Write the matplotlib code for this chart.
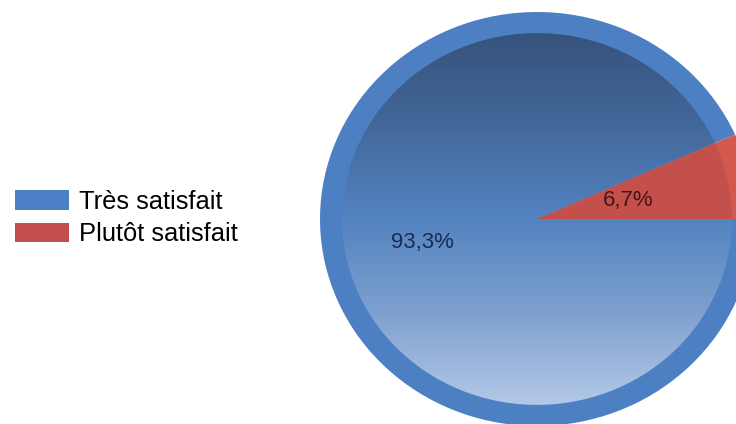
import matplotlib.pyplot as plt
import numpy as np
from matplotlib.colors import LinearSegmentedColormap
from matplotlib.patches import Patch

plt.rcParams['font.family'] = ['Liberation Sans', 'DejaVu Sans']

# Satisfaction shares (%), drawn counter-clockwise from 3 o'clock
labels = ['Plutôt satisfait', 'Très satisfait']
shares = [6.7, 93.3]
legend_order = ['Très satisfait', 'Plutôt satisfait']

ring_colors = ['#d3594f', '#4d80c2']
inner_red = '#c4504b'
legend_colors = {'Très satisfait': '#4a7fc6', 'Plutôt satisfait': '#c24f4d'}

fig = plt.figure(figsize=(7.36, 4.24), dpi=100)
W, H = 736, 424

# pie bounding box in pixels (slightly wider than tall)
cx, cy, rx, ry = 537, 219, 217, 207
ax = fig.add_axes([(cx - rx) / W, 1 - (cy + ry) / H, 2 * rx / W, 2 * ry / H])

# outer ring
ax.pie(shares, colors=ring_colors, startangle=0, counterclock=True, radius=1.0,
       wedgeprops=dict(linewidth=0, zorder=1), frame=True)

# inner disc
inner_r = 0.898
wedges, texts, autotexts = ax.pie(
    shares, colors=[inner_red, 'none'], startangle=0, counterclock=True,
    radius=inner_r, frame=True,
    autopct=lambda p: f"{p:.1f}%".replace('.', ','),
    wedgeprops=dict(linewidth=0, zorder=3),
    textprops=dict(fontsize=16))

# vertical gradient on the big slice (dark at the top, pale at the bottom)
grad = LinearSegmentedColormap.from_list(
    'blue_grad', ['#36537c', '#43689b', '#5383c0', '#7ea0cf', '#b3c8e6'])
img = ax.imshow(np.linspace(0, 1, 256).reshape(-1, 1), cmap=grad, aspect='auto',
                extent=(-inner_r, inner_r, -inner_r, inner_r), zorder=2)
img.set_clip_path(wedges[1])
ax.set_xlim(-1, 1)
ax.set_ylim(-1, 1)
ax.set_aspect('auto')
ax.axis('off')

# percentage labels
label_dist = [0.43, 0.54]
label_colors = ['#4a1414', '#1b2c52']
for w, t, d, c in zip(wedges, autotexts, label_dist, label_colors):
    ang = np.deg2rad((w.theta1 + w.theta2) / 2)
    t.set_position((d * np.cos(ang), d * np.sin(ang)))
    t.set_color(c)
    t.set_zorder(5)

handles = [Patch(facecolor=legend_colors[n], edgecolor='none') for n in legend_order]
fig.legend(handles, legend_order, loc='center left',
           bbox_to_anchor=(15 / W, 1 - 218 / H), frameon=False,
           fontsize=18.4, handlelength=2.1, handleheight=0.8,
           handletextpad=0.42, labelspacing=0.34, borderpad=0, borderaxespad=0)

fig.savefig('out.png', dpi=100, facecolor='white')
